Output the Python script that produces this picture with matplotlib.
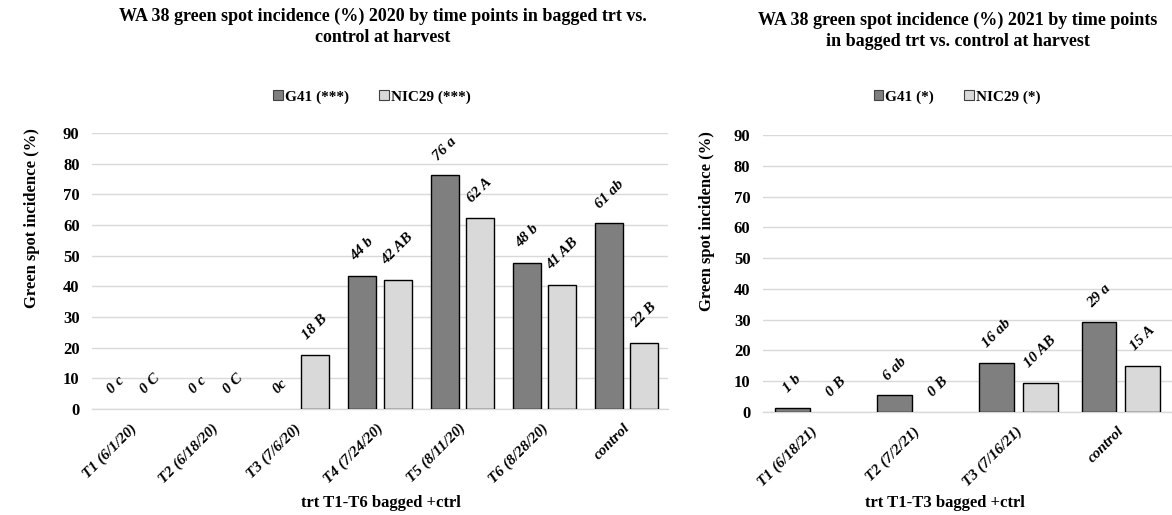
import numpy as np
import matplotlib
matplotlib.use("Agg")
import matplotlib.pyplot as plt
import matplotlib.transforms as mtransforms
from matplotlib.patches import Patch

plt.rcParams['font.family'] = ['Liberation Serif', 'DejaVu Serif']

# 2020 data
cats_2020 = ["T1 (6/1/20)", "T2 (6/18/20)", "T3 (7/6/20)", "T4 (7/24/20)",
             "T5 (8/11/20)", "T6 (8/28/20)", "control"]
g41_2020 = [0, 0, 0, 43.4, 76.2, 47.6, 60.6]
nic29_2020 = [0, 0, 17.6, 42.2, 62.3, 40.4, 21.5]
g41_lab_2020 = ["0 c", "0 c", "0c", "44 b", "76 a", "48 b", "61 ab"]
nic29_lab_2020 = ["0 C", "0 C", "18 B", "42 AB", "62 A", "41 AB", "22 B"]

# 2021 data
cats_2021 = ["T1 (6/18/21)", "T2 (7/2/21)", "T3 (7/16/21)", "control"]
g41_2021 = [1.3, 5.4, 16.0, 29.1]
nic29_2021 = [0, 0, 9.4, 15.1]
g41_lab_2021 = ["1 b", "6 ab", "16 ab", "29 a"]
nic29_lab_2021 = ["0 B", "0 B", "10 AB", "15 A"]

DARK = '#7f7f7f'
LIGHT = '#d9d9d9'
GRID = '#d9d9d9'


def panel(ax, cats, g41, nic, g41_lab, nic_lab, leg_names, leg_x, title, title_x, title_y,
          xlab, xlab_x, ylab_x):
    fig = ax.figure
    x = np.arange(len(cats))
    w = 0.34
    off = 0.213
    # sin borde para las barras en cero (no se ven en el original)
    ec1 = ['black' if v > 0 else 'none' for v in g41]
    ec2 = ['black' if v > 0 else 'none' for v in nic]
    ax.bar(x - off, g41, w, color=DARK, edgecolor=ec1, linewidth=1.0, zorder=3)
    ax.bar(x + off, nic, w, color=LIGHT, edgecolor=ec2, linewidth=1.0, zorder=3)

    # etiquetas de datos giradas
    for xs, vals, labs in [(x - off, g41, g41_lab), (x + off, nic, nic_lab)]:
        for xi, v, t in zip(xs, vals, labs):
            ax.annotate(t, (xi, v), xytext=(0, 9), textcoords='offset points',
                        rotation=45, ha='center', va='bottom', fontsize=11,
                        fontweight='bold', fontstyle='italic')

    ax.set_xlim(-0.5, len(cats) - 0.5)
    ax.set_ylim(0, 90)
    ax.set_yticks(range(0, 91, 10))
    ax.yaxis.grid(True, color=GRID, linewidth=1.0, zorder=0)
    ax.set_axisbelow(True)
    for s in ['top', 'right', 'left']:
        ax.spines[s].set_visible(False)
    ax.spines['bottom'].set_color(GRID)
    ax.spines['bottom'].set_linewidth(1.0)
    ax.tick_params(axis='y', length=0, pad=9, labelsize=12)
    ax.tick_params(axis='x', length=0, pad=9)
    for lab in ax.get_yticklabels():
        lab.set_fontweight('bold')
    ax.set_xticks(x)
    ax.set_xticklabels(cats, rotation=45, ha='right', fontsize=11,
                       fontweight='bold', fontstyle='italic')
    shift = mtransforms.ScaledTranslation(6 / 100, 0, fig.dpi_scale_trans)
    for lab in ax.get_xticklabels():
        lab.set_transform(lab.get_transform() + shift)

    ax.set_ylabel("Green spot incidence (%)", fontsize=12, fontweight='bold')
    ax.yaxis.set_label_coords(ylab_x, 0.69)

    fig.text(xlab_x, 1 - 503 / 515, xlab, ha='center', va='center', fontsize=12, fontweight='bold')
    fig.text(title_x, title_y, title, ha='center', va='top', fontsize=13,
             fontweight='bold', linespacing=1.3)
    handles = [Patch(facecolor=DARK, edgecolor='#404040', linewidth=0.8, label=leg_names[0]),
               Patch(facecolor=LIGHT, edgecolor='#404040', linewidth=0.8, label=leg_names[1])]
    ax.legend(handles=handles, loc='center', bbox_to_anchor=(leg_x, 1 - 97 / 515),
              bbox_transform=fig.transFigure, ncol=2, frameon=False,
              handlelength=0.6, handleheight=0.6, handletextpad=0.15,
              columnspacing=2.0, prop={'weight': 'bold', 'size': 11})


fig = plt.figure(figsize=(11.72, 5.15), dpi=100)
ax1 = fig.add_axes([92 / 1172, 1 - 409 / 515, 576 / 1172, 276 / 515])
ax2 = fig.add_axes([763 / 1172, 1 - 412 / 515, 409 / 1172, 277 / 515])

panel(ax1, cats_2020, g41_2020, nic29_2020, g41_lab_2020, nic29_lab_2020,
      ["G41 (***)", "NIC29 (***)"], 372 / 1172,
      "WA 38 green spot incidence (%) 2020 by time points in bagged trt vs.\ncontrol at harvest",
      383 / 1172, 1 - 8 / 515, "trt T1-T6 bagged +ctrl", 381 / 1172, -0.09)
panel(ax2, cats_2021, g41_2021, nic29_2021, g41_lab_2021, nic29_lab_2021,
      ["G41 (*)", "NIC29 (*)"], 957 / 1172,
      "WA 38 green spot incidence (%) 2021 by time points\nin bagged trt vs. control at harvest",
      958 / 1172, 1 - 12 / 515, "trt T1-T3 bagged +ctrl", 945 / 1172, -0.117)

fig.savefig("out.png", dpi=100)
